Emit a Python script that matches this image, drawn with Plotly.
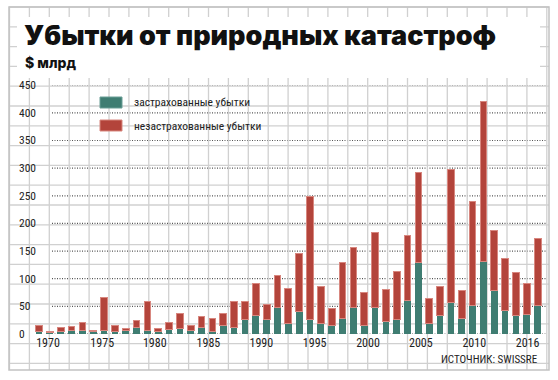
import plotly.graph_objects as go

# ---------------- data ----------------
years = list(range(1970, 2017))
insured = [5, 2, 5, 7, 7, 5, 6, 5, 6, 11,
           7, 4, 9, 10, 7, 11, 5, 16, 12, 27,
           33, 27, 48, 19, 40, 27, 19, 15, 28, 48,
           16, 48, 22, 27, 60, 130, 19, 33, 57, 28,
           51, 132, 79, 43, 34, 36, 52]
uninsured = [10, 2, 6, 7, 13, 2, 60, 11, 4, 14,
             51, 6, 11, 27, 9, 21, 23, 21, 47, 32,
             59, 27, 57, 64, 106, 221, 67, 31, 102, 108,
             59, 136, 59, 86, 119, 162, 45, 53, 240, 50,
             188, 289, 109, 93, 78, 56, 120]
tick_labels = ["1970", "1975", "1980", "1985", "1990", "1995", "2000", "2005", "2010", "2016"]
y_ticks = [0, 50, 100, 150, 200, 250, 300, 350, 400, 450]
series_names = ["застрахованные убытки", "незастрахованные убытки"]

# ---------------- style ----------------
W, H = 558, 380
TEAL = "#3f7d72"
RED = "#b3443b"
RED_EDGE = "#d8877f"
GRID = "#d0d0d0"
DOT = "#555555"
TEXT = "#222222"
NARROW = "Roboto Condensed, Liberation Sans Narrow, DejaVu Sans Condensed, Arial Narrow, sans-serif"
TITLE_FONT = "Inter, Lato, Roboto, sans-serif"
# label positions (drawn slightly off the bars in the original)
TICK_POS = [1970.83, 1975.83, 1980.68, 1985.63, 1990.51, 1995.43, 2000.35, 2005.22, 2010.15, 2015.07]


def px(x):
    return x / W


def py(y):
    return 1 - y / H


fig = go.Figure()
# invisible trace keeping the full-page background subplot (pixel coordinates)
fig.add_scatter(x=[], y=[], xaxis="x", yaxis="y", showlegend=False, hoverinfo="skip")
fig.add_bar(x=years, y=insured, name=series_names[0], xaxis="x2", yaxis="y2",
            marker=dict(color=TEAL, line=dict(color=TEAL, width=0)))
fig.add_bar(x=years, y=uninsured, name=series_names[1], xaxis="x2", yaxis="y2",
            marker=dict(color=RED, line=dict(color=RED_EDGE, width=1)))

shapes = []
# graph-paper background (pixel coordinates on background subplot)
k = 0
while 9.5 + 19.9 * k < 548:
    x = 9.5 + 19.9 * k
    shapes.append(dict(type="line", xref="x", yref="y", layer="below",
                       x0=x, x1=x, y0=7, y1=370,
                       line=dict(color=GRID, width=1.3)))
    k += 1
k = 0
while 7 + 19.8 * k < 369:
    y = 7 + 19.8 * k
    shapes.append(dict(type="line", xref="x", yref="y", layer="below",
                       x0=9, x1=549, y0=y, y1=y,
                       line=dict(color=GRID, width=1.3)))
    k += 1
# frame
shapes.append(dict(type="rect", xref="x", yref="y", layer="below",
                   x0=9, x1=549, y0=7, y1=370,
                   line=dict(color="#c2c2c2", width=1.5)))
# white title box
shapes.append(dict(type="rect", xref="x", yref="y", layer="below",
                   x0=17, x1=540, y0=17, y1=78,
                   fillcolor="white", line=dict(width=0)))
# dotted value lines
for v in y_ticks:
    shapes.append(dict(type="line", xref="paper", yref="y2", layer="below",
                       x0=px(52), x1=px(546), y0=v, y1=v,
                       line=dict(color=DOT, width=1.2, dash="1px,1.5px")))
# legend swatches
shapes.append(dict(type="rect", xref="x", yref="y",
                   x0=100, x1=122, y0=97, y1=108,
                   fillcolor=TEAL, line=dict(color="#6a9f96", width=1)))
shapes.append(dict(type="rect", xref="x", yref="y",
                   x0=100, x1=122, y0=120, y1=131,
                   fillcolor=RED, line=dict(color=RED_EDGE, width=1)))

annotations = [
    dict(text="Убытки от природных катастроф", xref="paper", yref="paper",
         x=px(22), y=py(35.5), xanchor="left", yanchor="middle", showarrow=False,
         font=dict(family=TITLE_FONT, size=27, color="#111111", weight=900)),
    dict(text="$ млрд", xref="paper", yref="paper",
         x=px(23), y=py(63), xanchor="left", yanchor="middle", showarrow=False,
         font=dict(family=TITLE_FONT, size=14, color="#111111", weight=800)),
    dict(text=series_names[0], xref="paper", yref="paper",
         x=px(132), y=py(102), xanchor="left", yanchor="middle", showarrow=False,
         font=dict(family=NARROW, size=11.5, color=TEXT)),
    dict(text=series_names[1], xref="paper", yref="paper",
         x=px(132), y=py(126), xanchor="left", yanchor="middle", showarrow=False,
         font=dict(family=NARROW, size=11.5, color=TEXT)),
    dict(text="ИСТОЧНИК: SWISSRE", xref="paper", yref="paper",
         x=px(540), y=py(359), xanchor="right", yanchor="middle", showarrow=False,
         font=dict(family=NARROW, size=11, color=TEXT)),
]
for v in y_ticks:
    annotations.append(dict(text=str(v), xref="paper", yref="y2", x=px(17), y=v,
                            xanchor="left", yanchor="middle", showarrow=False,
                            font=dict(family=NARROW, size=11.5, color=TEXT)))

fig.update_layout(
    width=W, height=H,
    margin=dict(l=0, r=0, t=0, b=0),
    paper_bgcolor="white",
    plot_bgcolor="rgba(0,0,0,0)",
    barmode="stack",
    bargap=0.38,
    showlegend=False,
    shapes=shapes,
    annotations=annotations,
    xaxis=dict(domain=[0, 1], range=[0, W], visible=False, fixedrange=True),
    yaxis=dict(domain=[0, 1], range=[H, 0], visible=False, fixedrange=True),
    xaxis2=dict(domain=[px(17), px(546)], range=[1967.97, 2016.77],
                anchor="y2",
                tickmode="array", tickvals=TICK_POS, ticktext=tick_labels,
                showgrid=False, zeroline=False, showline=False, ticks="",
                tickfont=dict(family=NARROW, size=12, color=TEXT)),
    yaxis2=dict(domain=[py(334), py(85.2)], range=[0, 450], anchor="x2",
                showticklabels=False, showgrid=False, zeroline=False,
                showline=False, ticks=""),
)

fig.write_html("out.html", config={"displayModeBar": False},
               post_script="document.body.style.margin='0px';")
